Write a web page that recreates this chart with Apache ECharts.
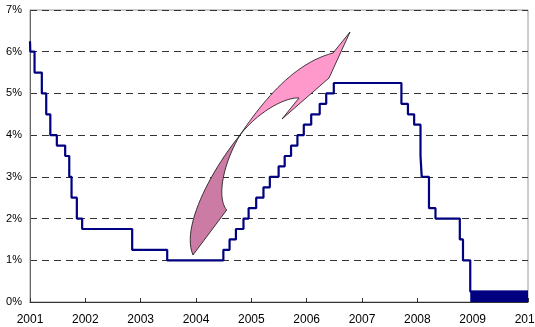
<!DOCTYPE html>
<html>
<head>
<meta charset="utf-8">
<title>Federal funds target rate 2001-2010</title>
<script src="https://cdn.jsdelivr.net/npm/echarts@6/dist/echarts.min.js"></script>
<style>
  html, body { margin: 0; padding: 0; background: #fff; }
  #chart { width: 535px; height: 327px; }
</style>
</head>
<body>
<div id="chart"></div>
<script>
// Target rate changes (date the new level took effect, level in %)
const changeDates = [
  '2001-01-01', '2001-01-03', '2001-01-31', '2001-03-20', '2001-04-18', '2001-05-15',
  '2001-06-27', '2001-08-21', '2001-09-17', '2001-10-02', '2001-11-06', '2001-12-11',
  '2002-11-06', '2003-06-25',
  '2004-06-30', '2004-08-10', '2004-09-21', '2004-11-10', '2004-12-14',
  '2005-02-02', '2005-03-22', '2005-05-03', '2005-06-30', '2005-08-09', '2005-09-20',
  '2005-11-01', '2005-12-13',
  '2006-01-31', '2006-03-28', '2006-05-10', '2006-06-29',
  '2007-09-18', '2007-10-31', '2007-12-11',
  '2008-01-22', '2008-01-30', '2008-03-18', '2008-04-30', '2008-10-08', '2008-10-29',
  '2008-12-16'
];
const rates = [
  6.25, 6.0, 5.5, 5.0, 4.5, 4.0,
  3.75, 3.5, 3.0, 2.5, 2.0, 1.75,
  1.25, 1.0,
  1.25, 1.5, 1.75, 2.0, 2.25,
  2.5, 2.75, 3.0, 3.25, 3.5, 3.75,
  4.0, 4.25,
  4.5, 4.75, 5.0, 5.25,
  4.75, 4.5, 4.25,
  3.5, 3.0, 2.25, 2.0, 1.5, 1.0,
  0.25
];
// Zero-bound target range (0 - 0.25%) from Dec 2008
const rangeDates = ['2008-12-16', '2010-01-01'];
const rangeTop = [0.25, 0.25];

const yearTicks = [2001, 2002, 2003, 2004, 2005, 2006, 2007, 2008, 2009, 2010];
const rateTicks = ['0%', '1%', '2%', '3%', '4%', '5%', '6%', '7%'];

// date string -> fractional year
function yearFrac(s) {
  const [y, m, d] = s.split('-').map(Number);
  const t = Date.UTC(y, m - 1, d), a = Date.UTC(y, 0, 1), b = Date.UTC(y + 1, 0, 1);
  return y + (t - a) / (b - a);
}

const lineData = changeDates.map((d, i) => [yearFrac(d), rates[i]]);
lineData.push([yearTicks[yearTicks.length - 1], rates[rates.length - 1]]);
const rangeData = rangeDates.map((d, i) => [yearFrac(d), rangeTop[i]]);

// Build a polygon outline from straight and cubic segments (pixel space)
function outline(start, segs) {
  const pts = [start];
  let cur = start;
  segs.forEach(s => {
    if (s.length === 1) {
      pts.push(s[0]);
      cur = s[0];
    } else {
      const [c1, c2, e] = s;
      for (let i = 1; i <= 24; i++) {
        const t = i / 24, u = 1 - t;
        pts.push([
          u * u * u * cur[0] + 3 * u * u * t * c1[0] + 3 * u * t * t * c2[0] + t * t * t * e[0],
          u * u * u * cur[1] + 3 * u * u * t * c1[1] + 3 * u * t * t * c2[1] + t * t * t * e[1]
        ]);
      }
      cur = e;
    }
  });
  return pts;
}

// twisted ribbon arrow, reverse side (tail)
const arrowTail = outline([240, 135], [
  [[210, 172], [181, 228], [193, 255]],
  [[226.7, 210]],
  [[218, 200], [220, 170], [240, 135]]
]);
// twisted ribbon arrow, front side with head
const arrowHead = outline([240, 135], [
  [[265, 98], [295, 63], [333, 53]],
  [[350, 32]],
  [[329, 78]],
  [[282, 119]],
  [[299, 98]],
  [[285, 97], [258, 112], [240, 135]]
]);

const NAVY = '#000080';
const chart = echarts.init(document.getElementById('chart'), null, { renderer: 'canvas' });

chart.setOption({
  animation: false,
  backgroundColor: '#ffffff',
  grid: {
    left: 30, right: 7, top: 10, bottom: 25,
    containLabel: false, outerBoundsMode: 'none',
    show: true, borderColor: '#9a9a9a', borderWidth: 1, backgroundColor: 'transparent'
  },
  xAxis: {
    type: 'value',
    min: yearTicks[0], max: yearTicks[yearTicks.length - 1], interval: 1,
    axisLine: { show: true, lineStyle: { color: '#333', width: 1 } },
    axisTick: { show: true, inside: true, length: 4, lineStyle: { color: '#333' } },
    axisLabel: {
      color: '#000', fontFamily: 'Liberation Sans, Arial, sans-serif', fontSize: 12,
      margin: 12, showMaxLabel: true, showMinLabel: true,
      alignMinLabel: 'center', alignMaxLabel: 'center',
      formatter: v => String(yearTicks[Math.round(v - yearTicks[0])])
    },
    splitLine: { show: false }
  },
  yAxis: {
    type: 'value',
    min: 0, max: 7, interval: 1,
    axisLine: { show: true, lineStyle: { color: '#666', width: 1 } },
    axisTick: { show: false },
    axisLabel: {
      color: '#000', fontFamily: 'Liberation Sans, Arial, sans-serif', fontSize: 11,
      margin: 8, formatter: v => rateTicks[Math.round(v)]
    },
    splitLine: { show: true, lineStyle: { color: '#333', type: [7, 5], width: 1 } }
  },
  series: [
    {
      type: 'line',
      step: 'end',
      data: lineData,
      showSymbol: false,
      symbol: 'none',
      lineStyle: { color: NAVY, width: 2.2 },
      z: 3
    },
    {
      type: 'line',
      data: rangeData,
      showSymbol: false,
      symbol: 'none',
      lineStyle: { color: NAVY, width: 1.5 },
      areaStyle: { color: NAVY, opacity: 1 },
      z: 3
    }
  ],
  graphic: [
    {
      type: 'polygon',
      z: 10,
      shape: { points: arrowTail },
      style: { fill: '#cc7ba4', stroke: '#111', lineWidth: 0.8 }
    },
    {
      type: 'polygon',
      z: 10,
      shape: { points: arrowHead },
      style: { fill: '#ff99cc', stroke: '#111', lineWidth: 0.8 }
    }
  ]
});
</script>
</body>
</html>
